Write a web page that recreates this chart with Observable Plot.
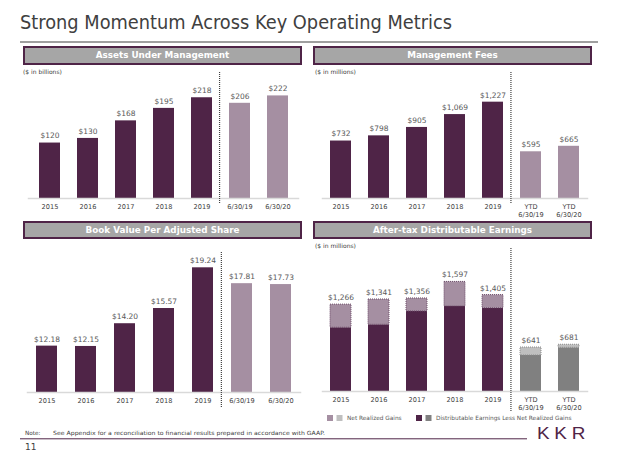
<!DOCTYPE html>
<html><head><meta charset="utf-8">
<script src="https://cdn.jsdelivr.net/npm/d3@7"></script>
<script src="https://cdn.jsdelivr.net/npm/@observablehq/plot@0.6"></script>
<style>
html,body{margin:0;padding:0;background:#fff;}
#page{position:relative;width:621px;height:453px;overflow:hidden;font-family:"DejaVu Sans",Verdana,sans-serif;background:#fff;}
.hdr{position:absolute;box-sizing:border-box;border:2px solid #4F2447;background:#A6A6A6;color:#fff;font-weight:bold;font-size:8.8px;text-align:center;width:279px;height:19px;line-height:15px;white-space:nowrap;}
.unit{position:absolute;font-size:6px;color:#404040;line-height:8px;white-space:nowrap;}
</style></head>
<body><div id="page"></div>
<script>
// ---- data ----
const aumCategories = ["2015","2016","2017","2018","2019","6/30/19","6/30/20"];
const aumValues = [120,130,168,195,218,206,222];
const feeCategories = ["2015","2016","2017","2018","2019","YTD\n6/30/19","YTD\n6/30/20"];
const feeValues = [732,798,905,1069,1227,595,665];
const bookCategories = ["2015","2016","2017","2018","2019","6/30/19","6/30/20"];
const bookValues = [12.18,12.15,14.20,15.57,19.24,17.81,17.73];
const adeCategories = ["2015","2016","2017","2018","2019","YTD\n6/30/19","YTD\n6/30/20"];
const adeTotals = [1266,1341,1356,1597,1405,641,681];
const adeNetRealizedGains = [337,369,190,358,191,116,44];
const adeLessGains = [929,972,1166,1239,1214,525,637];
const periods = ["annual","annual","annual","annual","annual","interim","interim"];

// ---- styles ----
const DARK = "#4F2447", LIGHT = "#A58FA2", DGREY = "#808080", LGREY = "#BFBFBF";
const PI = 0.45, PO = 0.2;
const page = document.getElementById("page");
const fmtInt = d3.format(",");

function rows(cats, vals) {
  return cats.map((c, i) => ({cat: c, value: vals[i], period: periods[i]}));
}

function makeChart(o) {
  const n = o.categories.length;
  const span = o.width - o.marginLeft - o.marginRight;
  const step = span / (n - PI + 2 * PO);
  const firstInterim = o.categories[periods.indexOf("interim")];
  const chart = Plot.plot({
    width: o.width, height: o.height,
    marginLeft: o.marginLeft, marginRight: o.marginRight,
    marginTop: o.marginTop, marginBottom: o.marginBottom,
    style: {fontFamily: "DejaVu Sans, Verdana, sans-serif", fontSize: "7px", color: "#404040", background: "transparent", overflow: "visible", maxWidth: "none"},
    x: {domain: o.categories, paddingInner: PI, paddingOuter: PO, label: null},
    y: {domain: o.yDomain, axis: null},
    marks: [
      ...o.marks,
      Plot.frame({anchor: "bottom", stroke: "#D9D9D9", strokeWidth: 1.5, strokeOpacity: 1}),
      Plot.text(o.data, {x: "cat", y: "value", text: d => o.fmt(d.value), dy: -7, fill: "#595959", fontSize: 7.5}),
      Plot.axisX({tickSize: 0, tickPadding: 5, fontSize: 6.6, color: "#404040", label: null, lineHeight: 1.2}),
      Plot.ruleX([firstInterim], {x: d => d, dx: -step / 2 - 1, stroke: "#404040", strokeWidth: 1.2, strokeDasharray: "1,1", insetTop: o.sepTop, insetBottom: o.sepBottom})
    ]
  });
  chart.style.position = "absolute";
  chart.style.left = o.left + "px";
  chart.style.top = o.top + "px";
  page.append(chart);
}

function simpleBars(data, base) {
  return [Plot.barY(data, {x: "cat", y1: base, y2: "value", fill: d => d.period === "annual" ? DARK : LIGHT})];
}

// Assets Under Management
const aumData = rows(aumCategories, aumValues);
const aumDomain = [0, 264];
makeChart({left: 0, top: 66, width: 310, height: 155, marginLeft: 28, marginRight: 12, marginTop: 10, marginBottom: 23,
  categories: aumCategories, data: aumData, yDomain: aumDomain, fmt: v => "$" + v,
  marks: simpleBars(aumData, aumDomain[0]), sepTop: -4, sepBottom: -5});

// Management Fees
const feeData = rows(feeCategories, feeValues);
const feeDomain = [0, 1554];
makeChart({left: 310, top: 66, width: 311, height: 157, marginLeft: 12, marginRight: 34, marginTop: 10, marginBottom: 25,
  categories: feeCategories, data: feeData, yDomain: feeDomain, fmt: v => "$" + fmtInt(v),
  marks: simpleBars(feeData, feeDomain[0]), sepTop: -4, sepBottom: -5});

// Book Value Per Adjusted Share
const bookData = rows(bookCategories, bookValues);
const bookDomain = [8, 20.8];
makeChart({left: 0, top: 240, width: 310, height: 175, marginLeft: 27, marginRight: 10, marginTop: 10, marginBottom: 23,
  categories: bookCategories, data: bookData, yDomain: bookDomain, fmt: v => "$" + v.toFixed(2),
  marks: simpleBars(bookData, bookDomain[0]), sepTop: 2, sepBottom: -15});

// After-tax Distributable Earnings
const adeData = adeCategories.map((c, i) => ({cat: c, value: adeTotals[i], gains: adeNetRealizedGains[i], less: adeLessGains[i], period: periods[i]}));
makeChart({left: 310, top: 240, width: 311, height: 176, marginLeft: 12, marginRight: 34, marginTop: 10, marginBottom: 25,
  categories: adeCategories, data: adeData, yDomain: [0, 2055], fmt: v => "$" + fmtInt(v),
  marks: [
    Plot.barY(adeData, {x: "cat", y1: 0, y2: "less", fill: d => d.period === "annual" ? DARK : DGREY}),
    Plot.barY(adeData, {x: "cat", y1: "less", y2: "value", fill: d => d.period === "annual" ? LIGHT : LGREY,
      stroke: d => d.period === "annual" ? "#6E4E6A" : "#8C8C8C", strokeWidth: 1, strokeDasharray: "1,1"})
  ], sepTop: -2, sepBottom: -21});

// ---- headers & units ----
function addDiv(cls, text, left, top, extra) {
  const d = document.createElement("div");
  d.className = cls; d.textContent = text;
  d.style.left = left + "px"; d.style.top = top + "px";
  if (extra) Object.assign(d.style, extra);
  page.append(d);
}
addDiv("hdr", "Assets Under Management", 23, 46);
addDiv("hdr", "Management Fees", 313, 46);
addDiv("hdr", "Book Value Per Adjusted Share", 23, 221, {height: "18px", lineHeight: "14px"});
addDiv("hdr", "After-tax Distributable Earnings", 313, 221, {height: "18px", lineHeight: "14px"});
addDiv("unit", "($ in billions)", 23, 68);
addDiv("unit", "($ in millions)", 315, 68);
addDiv("unit", "($ in millions)", 315, 242);

// ---- decorations: title, rules, legend, note, logo ----
const NS = "http://www.w3.org/2000/svg";
const deco = document.createElementNS(NS, "svg");
deco.setAttribute("width", 621); deco.setAttribute("height", 453);
deco.style.position = "absolute"; deco.style.left = "0"; deco.style.top = "0";
deco.style.pointerEvents = "none";
function el(tag, attrs, text) {
  const e = document.createElementNS(NS, tag);
  for (const k in attrs) e.setAttribute(k, attrs[k]);
  if (text != null) e.textContent = text;
  deco.append(e);
  return e;
}
el("text", {x: 20, y: 29, "font-size": 19, fill: "#404040", "font-family": "DejaVu Sans, Verdana, sans-serif", textLength: 432, lengthAdjust: "spacingAndGlyphs"}, "Strong Momentum Across Key Operating Metrics");
el("line", {x1: 20, x2: 598, y1: 42, y2: 42, stroke: "#7F7F7F", "stroke-width": 1.3});
// legend
const legendItems = [
  {x: 327, colors: [LIGHT, LGREY], label: "Net Realized Gains"},
  {x: 416, colors: [DARK, DGREY], label: "Distributable Earnings Less Net Realized Gains"}
];
for (const it of legendItems) {
  it.colors.forEach((c, j) => el("rect", {x: it.x + j * 9.5, y: 415, width: 6, height: 6, fill: c}));
  el("text", {x: it.x + 20, y: 420.2, "font-size": 5.8, fill: "#595959", "font-family": "DejaVu Sans, Verdana, sans-serif"}, it.label);
}
// note
el("text", {x: 25, y: 435.3, "font-size": 5.7, fill: "#404040", "font-family": "DejaVu Sans, Verdana, sans-serif"}, "Note:");
el("text", {x: 53, y: 435.3, "font-size": 5.7, fill: "#404040", "font-family": "DejaVu Sans, Verdana, sans-serif", textLength: 272, lengthAdjust: "spacingAndGlyphs"}, "See Appendix for a reconciliation to financial results prepared in accordance with GAAP.");
el("line", {x1: 20, x2: 527, y1: 438.8, y2: 438.8, stroke: "#4F2447", "stroke-width": 1});
el("text", {x: 25, y: 450, "font-size": 9, fill: "#404040", "font-family": "DejaVu Sans, Verdana, sans-serif"}, "11");
el("text", {x: 537, y: 438.5, "font-size": 16, fill: "#4F2447", "font-family": "Liberation Sans, Arial, sans-serif", "letter-spacing": 4, textLength: 53, lengthAdjust: "spacingAndGlyphs"}, "KKR");
page.prepend(deco);
</script>
</body></html>
